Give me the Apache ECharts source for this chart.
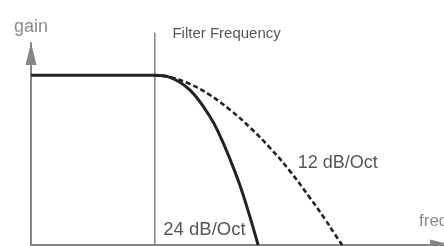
<!DOCTYPE html>
<html>
<head>
<meta charset="utf-8">
<script src="https://cdn.jsdelivr.net/npm/echarts@6/dist/echarts.min.js"></script>
<style>
html, body { margin: 0; padding: 0; background: #fff; }
#chart { width: 444px; height: 246px; }
</style>
</head>
<body>
<div id="chart"></div>
<script>
// frequency on x (0..100, cutoff ~30), gain on y (passband = 1)
var flatPart = [[0, 1], [30.2, 1]];
var slope24 = [[30.2, 1], [33.9, 0.988], [38.8, 0.912], [43.7, 0.754], [46.1, 0.643], [48.5, 0.508], [51.0, 0.349], [53.4, 0.166], [55.4, 0]];
var slope12 = [[30.2, 1], [33.9, 0.989], [38.8, 0.948], [43.7, 0.883], [48.5, 0.797], [53.4, 0.693], [58.3, 0.572], [63.2, 0.434], [68.0, 0.279], [71.7, 0.153], [74.1, 0.064], [75.9, 0]];
var cutoffLine = [[30.2, 0], [30.2, 1.25]];
var noteTexts = ['Filter Frequency', '12 dB/Oct', '24 dB/Oct'];
var notePos = [[47.7, 1.243], [74.8, 0.481], [42.3, 0.088]];
var noteSizes = [15, 18, 18.5];

var chartDom = document.getElementById('chart');
var myChart = echarts.init(chartDom);
var option;

var font = "'Liberation Sans', Arial, sans-serif";
var axisGray = '#858585';

option = {
  animation: false,
  grid: { left: 31, right: 3, top: 43, bottom: 1, outerBoundsMode: 'none' },
  xAxis: {
    type: 'value',
    min: 0,
    max: 100,
    name: 'frequency',
    nameLocation: 'end',
    nameGap: -22,
    nameTextStyle: { color: '#8a8a8a', fontSize: 17, fontFamily: font, align: 'left', verticalAlign: 'bottom', padding: [0, 0, 15, 0] },
    axisLine: { lineStyle: { color: axisGray, width: 2 }, symbol: ['none', 'triangle'], symbolSize: [11, 22] },
    axisTick: { show: false },
    axisLabel: { show: false },
    splitLine: { show: false }
  },
  yAxis: {
    type: 'value',
    min: 0,
    max: 1.19,
    name: 'gain',
    nameLocation: 'end',
    nameGap: 7,
    nameTextStyle: { color: '#8a8a8a', fontSize: 18, fontFamily: font },
    axisLine: { lineStyle: { color: axisGray, width: 2 }, symbol: ['none', 'triangle'], symbolSize: [11, 22], symbolOffset: [0, -11] },
    axisTick: { show: false },
    axisLabel: { show: false },
    splitLine: { show: false }
  },
  series: [
    {
      type: 'line',
      data: cutoffLine,
      symbol: 'none',
      clip: false,
      silent: true,
      lineStyle: { color: '#6e6e6e', width: 1.3 }
    },
    {
      type: 'line',
      data: slope12,
      symbol: 'none',
      smooth: 0.4,
      lineStyle: { color: '#222', width: 2.6, type: [5, 3] }
    },
    {
      type: 'line',
      data: flatPart.concat(slope24.slice(1)),
      symbol: 'none',
      smooth: 0.4,
      lineStyle: { color: '#222', width: 3 }
    },
    {
      type: 'scatter',
      symbolSize: 0,
      clip: false,
      silent: true,
      data: noteTexts.map(function (t, i) {
        return {
          value: notePos[i],
          name: t,
          label: { fontSize: noteSizes[i] }
        };
      }),
      label: {
        show: true,
        position: 'inside',
        formatter: '{b}',
        color: '#2a2a2a',
        fontFamily: font
      }
    }
  ]
};

option && myChart.setOption(option);
</script>
</body>
</html>
